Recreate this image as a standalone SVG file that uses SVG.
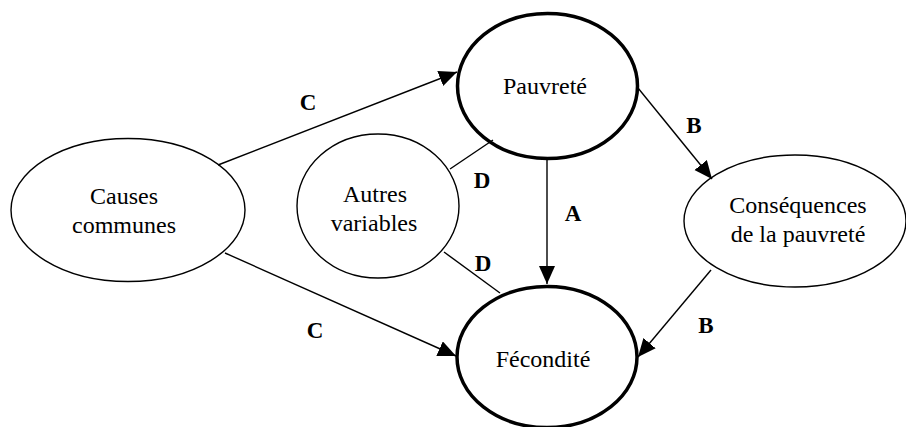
<svg xmlns="http://www.w3.org/2000/svg" width="906" height="427" viewBox="0 0 906 427">
<defs>
<style>
.thin{fill:#fff;stroke:#000;stroke-width:1.4}
.thick{fill:#fff;stroke:#000;stroke-width:3.5}
.t{font-size:24px;fill:#000;text-anchor:middle}
.lbl{font-size:23px;font-weight:bold;fill:#000;text-anchor:middle}
.c{stroke:#000;stroke-width:1.4;fill:none}
</style>
<marker id="ah" markerUnits="userSpaceOnUse" markerWidth="20" markerHeight="18" refX="18" refY="8" orient="auto">
<path d="M0,0 L18,8 L0,16 Z" fill="#000"/>
</marker>
</defs>
<g font-family="'Liberation Serif', 'DejaVu Serif', serif">
<g id="causes">
<ellipse class="thin" cx="128" cy="210" rx="117" ry="71.5"/>
<text class="t" x="124" y="204">Causes</text>
<text class="t" x="124" y="233">communes</text>
</g>
<g id="autres">
<ellipse class="thin" cx="378" cy="206" rx="81" ry="72"/>
<text class="t" x="375" y="202">Autres</text>
<text class="t" x="374" y="231">variables</text>
</g>
<g id="pauvrete">
<ellipse class="thick" cx="547.5" cy="86" rx="90" ry="72.5"/>
<text class="t" x="545" y="94">Pauvreté</text>
</g>
<g id="fecondite">
<ellipse class="thick" cx="547" cy="357" rx="90" ry="70.5"/>
<text class="t" x="543" y="367">Fécondité</text>
</g>
<g id="consequences">
<ellipse class="thin" cx="795" cy="221" rx="111" ry="66"/>
<text class="t" x="798" y="213">Conséquences</text>
<text class="t" x="798" y="242">de la pauvreté</text>
</g>
<g id="connectors">
<line class="c" x1="218" y1="165" x2="457" y2="72" marker-end="url(#ah)"/>
<line class="c" x1="225" y1="253" x2="456" y2="356" marker-end="url(#ah)"/>
<line class="c" x1="547" y1="160" x2="547" y2="284" stroke-width="1.6" marker-end="url(#ah)"/>
<line class="c" x1="638" y1="88" x2="712" y2="179" marker-end="url(#ah)"/>
<line class="c" x1="711" y1="270" x2="638" y2="357" marker-end="url(#ah)"/>
<line class="c" x1="450" y1="169" x2="493" y2="140"/>
<line class="c" x1="444" y1="252" x2="500" y2="293"/>
<text class="lbl" x="308" y="110">C</text>
<text class="lbl" x="315" y="338">C</text>
<text class="lbl" x="573" y="221">A</text>
<text class="lbl" x="694" y="133">B</text>
<text class="lbl" x="706" y="333">B</text>
<text class="lbl" x="482" y="188">D</text>
<text class="lbl" x="483" y="271">D</text>
</g>
</g>
</svg>
